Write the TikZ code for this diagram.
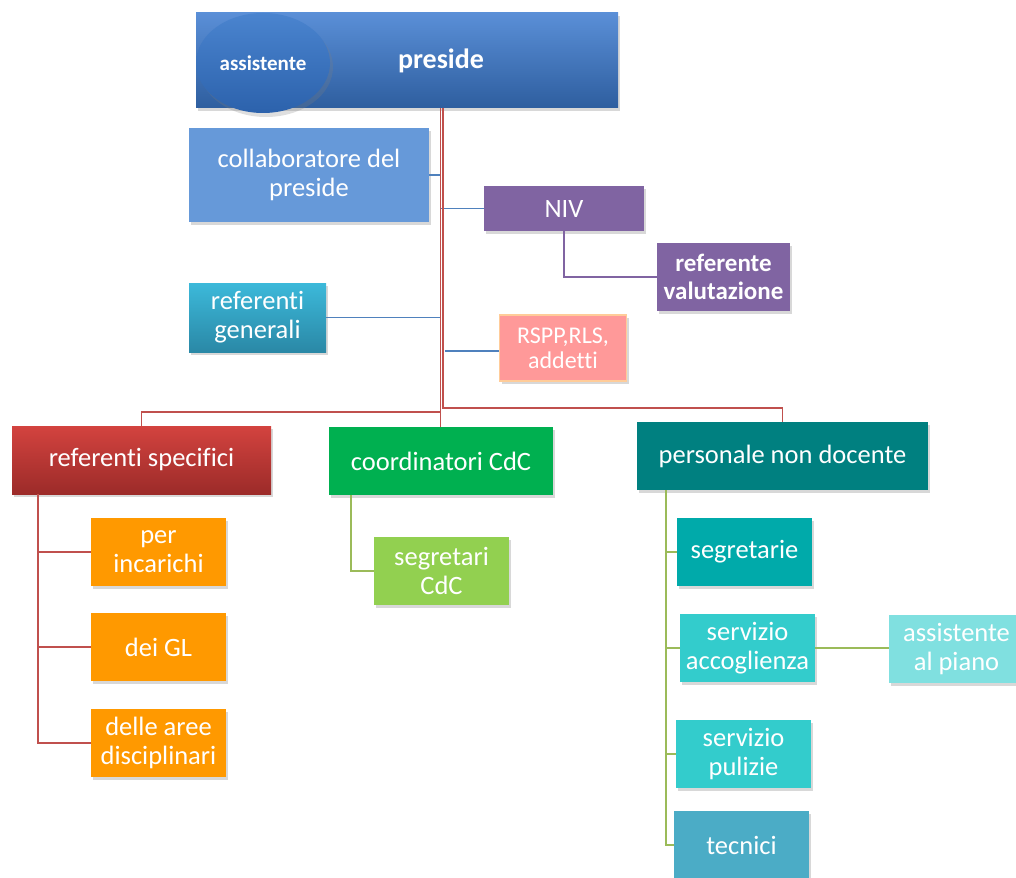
\documentclass[tikz,border=0pt]{standalone}
\usepackage{fontspec}
\setmainfont{Carlito}[Ligatures=NoCommon]
\usetikzlibrary{shapes.geometric,shadows}
\definecolor{redline}{HTML}{C0504D}
\definecolor{blueline}{HTML}{4F81BD}
\definecolor{purpleline}{HTML}{8064A2}
\definecolor{greenline}{HTML}{9BBB59}
\definecolor{cCollab}{HTML}{6699D9}
\definecolor{cPurple}{HTML}{8064A2}
\definecolor{cCoord}{HTML}{00B050}
\definecolor{cPers}{HTML}{008080}
\definecolor{cOrange}{HTML}{FF9900}
\definecolor{cSegCdC}{HTML}{92D050}
\definecolor{cSegr}{HTML}{00AAAA}
\definecolor{cServ}{HTML}{33CCCC}
\definecolor{cPiano}{HTML}{80E0E0}
\definecolor{cTecn}{HTML}{4BACC6}
\definecolor{cRspp}{HTML}{FF9999}
\definecolor{cRsppB}{HTML}{FFCC99}
\definecolor{presTop}{HTML}{5A8FD7}
\definecolor{presBot}{HTML}{2E5E9F}
\definecolor{ellTop}{HTML}{4A84CF}
\definecolor{ellBot}{HTML}{2C62AC}
\definecolor{rsTop}{HTML}{D3433F}
\definecolor{rsBot}{HTML}{9C2B29}
\definecolor{rgTop}{HTML}{3CB9DA}
\definecolor{rgBot}{HTML}{2A88A6}
\tikzset{
  orgbox/.style={rectangle, draw=none, text=white, align=center, inner sep=0pt,
    font=\fontsize{26.5}{29}\selectfont,
    drop shadow={opacity=0.3, shadow xshift=2pt, shadow yshift=-3pt}},
  redl/.style={draw=redline, line width=1.6pt},
  bluel/.style={draw=blueline, line width=1.5pt},
  purplel/.style={draw=purpleline, line width=1.6pt},
  greenl/.style={draw=greenline, line width=2pt},
}
\begin{document}
\begin{tikzpicture}[x=1pt,y=-1pt]
\clip (0,0) rectangle (1016,877);
\fill[white] (0,0) rectangle (1016,877);

% top
\node[orgbox, top color=presTop, bottom color=presBot, minimum width=422pt, minimum height=95pt,
  label={[text=white, font=\bfseries\fontsize{28}{30}\selectfont, xshift=34pt]center:preside}]
  (preside) at (407,60.5) {};
\node[ellipse, text=white, inner sep=0pt, top color=ellTop, bottom color=ellBot,
  minimum width=134pt, minimum height=100pt, font=\bfseries\fontsize{21}{23}\selectfont,
  drop shadow={opacity=0.25, shadow xshift=3pt, shadow yshift=-4pt}]
  (assist) at (263,63) {assistente};

\node[orgbox, fill=cCollab, minimum width=240pt, minimum height=94pt] (collab) at (309,175) {collaboratore del\\preside};
\node[orgbox, fill=cPurple, minimum width=160pt, minimum height=45pt] (niv) at (564,208.5) {NIV};
\node[orgbox, fill=cPurple, minimum width=133pt, minimum height=68pt, font=\bfseries\fontsize{25}{28}\selectfont] (refval) at (723.5,277) {referente\\valutazione};
\node[orgbox, top color=rgTop, bottom color=rgBot, minimum width=137pt, minimum height=69pt] (refgen) at (257.5,317.5) {referenti\\generali};
\node[orgbox, fill=cRspp, draw=cRsppB, line width=1.5pt, minimum width=127pt, minimum height=66pt, font=\fontsize{24}{25}\selectfont] (rspp) at (563,348) {RSPP,RLS,\\addetti};

% level 2
\node[orgbox, top color=rsTop, bottom color=rsBot, minimum width=259pt, minimum height=68pt] (refspec) at (141.5,460) {referenti specifici};
\node[orgbox, fill=cCoord, minimum width=224pt, minimum height=68pt] (coord) at (441,461) {coordinatori CdC};
\node[orgbox, fill=cPers, minimum width=291pt, minimum height=68pt] (pers) at (782.5,456) {personale non docente};

% level 3
\node[orgbox, fill=cOrange, minimum width=135pt, minimum height=68pt] (inc) at (158.5,552) {per\\incarichi};
\node[orgbox, fill=cOrange, minimum width=135pt, minimum height=68pt] (gl) at (158.5,647) {dei GL};
\node[orgbox, fill=cOrange, minimum width=135pt, minimum height=68pt] (aree) at (158.5,743) {delle aree\\disciplinari};
\node[orgbox, fill=cSegCdC, minimum width=135pt, minimum height=68pt] (segcdc) at (441.5,571) {segretari\\CdC};
\node[orgbox, fill=cSegr, minimum width=135pt, minimum height=68pt] (segr) at (744.5,552) {segretarie};
\node[orgbox, fill=cServ, minimum width=135pt, minimum height=68pt] (acc) at (747.5,648) {servizio\\accoglienza};
\node[orgbox, fill=cPiano, minimum width=135pt, minimum height=68pt] (piano) at (956.5,649) {assistente\\al piano};
\node[orgbox, fill=cServ, minimum width=135pt, minimum height=68pt] (pul) at (743.5,754) {servizio\\pulizie};
\node[orgbox, fill=cTecn, minimum width=135pt, minimum height=68pt] (tec) at (741.5,845) {tecnici};

% connectors from preside
\coordinate (j1) at (440.5,412);
\coordinate (j2) at (443,408);
\draw[bluel] (collab.east) -- (collab.east -| j1);
\draw[bluel] (niv.west -| j1) -- (niv.west);
\draw[bluel] (refgen.east) -- (refgen.east -| j1);
\coordinate (rs) at (445,351);
\draw[bluel] (rs) -- (rs -| rspp.west);
\draw[purplel] (niv.south) |- (refval.west);
\draw[redl] (preside.south -| j2) -- (j2) -| (pers.north);
\draw[redl] (preside.south -| j1) -- (j1) -| (refspec.north);
\draw[redl] (j1) -- (coord.north -| j1);

% referenti specifici branch
\coordinate (lv) at (38,0);
\draw[redl] (refspec.south -| lv) |- (aree.west);
\draw[redl] (lv |- inc.west) -- (inc.west);
\draw[redl] (lv |- gl.west) -- (gl.west);

% coordinatori branch
\coordinate (cv) at (351,0);
\draw[greenl] (coord.south -| cv) |- (segcdc.west);

% personale branch
\coordinate (pv) at (666,0);
\draw[greenl] (pers.south -| pv) |- (tec.west);
\draw[greenl] (pv |- segr.west) -- (segr.west);
\draw[greenl] (pv |- acc.west) -- (acc.west);
\draw[greenl] (pv |- pul.west) -- (pul.west);
\draw[greenl] (acc.east) -- (acc.east -| piano.west);
\end{tikzpicture}
\end{document}
